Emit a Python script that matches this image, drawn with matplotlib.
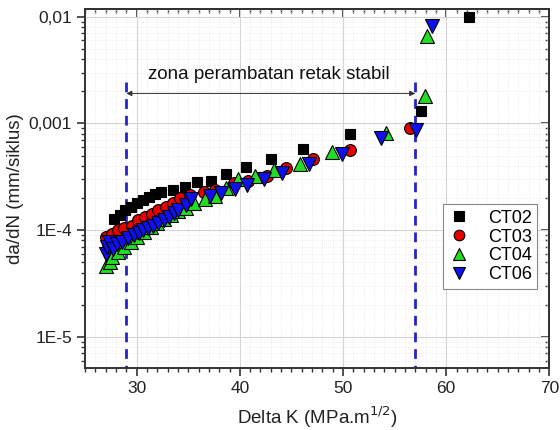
import matplotlib
matplotlib.use("Agg")
import matplotlib.pyplot as plt
from matplotlib.ticker import FixedLocator, FixedFormatter, MultipleLocator, LogLocator, NullFormatter

plt.rcParams['font.family'] = ['Liberation Sans', 'DejaVu Sans']

# data
ct02_dk = [27.8, 28.4, 28.9, 29.4, 30.0, 30.6, 31.2, 31.8, 32.4, 33.5, 34.7, 35.8, 37.2, 38.7,
           40.6, 43.0, 46.1, 50.7, 57.6, 62.2]
ct02_da = [1.26e-4, 1.39e-4, 1.54e-4, 1.66e-4, 1.78e-4, 1.91e-4, 2.03e-4, 2.18e-4, 2.29e-4, 2.38e-4,
           2.52e-4, 2.82e-4, 2.87e-4, 3.36e-4, 3.93e-4, 4.64e-4, 5.71e-4, 7.91e-4, 1.31e-3, 1.0e-2]

ct03_dk = [27.0, 27.2, 27.6, 28.2, 28.8, 29.5, 30.1, 30.8, 31.5, 32.1, 32.8, 33.5, 34.2, 35.2,
           36.5, 37.6, 39.4, 40.8, 42.6, 44.5, 47.1, 50.7, 56.5]
ct03_da = [8.6e-5, 7.4e-5, 9.2e-5, 1.0e-4, 1.05e-4, 1.10e-4, 1.24e-4, 1.33e-4, 1.42e-4, 1.54e-4,
           1.65e-4, 1.80e-4, 2.0e-4, 2.12e-4, 2.29e-4, 2.38e-4, 2.78e-4, 2.9e-4, 3.2e-4, 3.8e-4,
           4.6e-4, 5.6e-4, 9.0e-4]

ct04_dk = [27.0, 27.4, 27.6, 28.2, 28.8, 29.4, 30.0, 30.7, 31.4, 32.0, 32.6, 33.3, 34.0, 34.8,
           35.6, 36.6, 37.6, 38.7, 39.8, 41.5, 43.3, 45.8, 48.9, 54.2, 57.9, 58.1]
ct04_da = [4.6e-5, 5.0e-5, 5.6e-5, 6.2e-5, 7.0e-5, 7.8e-5, 8.6e-5, 9.6e-5, 1.06e-4, 1.16e-4,
           1.27e-4, 1.38e-4, 1.50e-4, 1.62e-4, 1.80e-4, 1.95e-4, 2.1e-4, 2.5e-4, 3.0e-4, 3.2e-4,
           3.7e-4, 4.2e-4, 5.4e-4, 8.2e-4, 1.8e-3, 6.6e-3]

ct06_dk = [27.0, 27.1, 27.3, 27.7, 28.1, 28.6, 29.2, 29.7, 30.2, 30.6, 31.1, 31.6, 32.1, 32.6,
           33.1, 33.6, 34.0, 34.8, 35.3, 37.1, 38.2, 39.5, 40.7, 42.3, 44.1, 46.7, 49.9, 53.7,
           57.1, 58.6]
ct06_da = [6.0e-5, 7.0e-5, 7.8e-5, 6.7e-5, 7.4e-5, 7.8e-5, 8.4e-5, 9.0e-5, 9.4e-5, 1.0e-4,
           1.04e-4, 1.1e-4, 1.16e-4, 1.25e-4, 1.34e-4, 1.44e-4, 1.54e-4, 1.72e-4, 1.94e-4, 2.1e-4,
           2.25e-4, 2.45e-4, 2.63e-4, 3.0e-4, 3.4e-4, 4.2e-4, 5.2e-4, 7.3e-4, 8.6e-4, 8.2e-3]

zone_lo, zone_hi = 29.0, 57.0
zone_label = "zona perambatan retak stabil"

fig = plt.figure(figsize=(5.6, 4.3), dpi=100)
ax = fig.add_axes([0.152, 0.144, 0.829, 0.835])

ax.set_yscale("log")
ax.set_xlim(25, 70)
ax.set_ylim(5.1e-6, 0.0118)

# grid
ax.grid(True, which="major", color="#d4d4d4", lw=0.8, ls="-", zorder=0)
ax.grid(True, which="minor", color="#e6e6e6", lw=0.6, ls=":", zorder=0)
ax.set_axisbelow(True)

# dashed zone boundaries and arrow
for xv in (zone_lo, zone_hi):
    ax.plot([xv, xv], [2.45e-3, 5.1e-6], color="#2424c8", lw=2.0, ls=(0, (3.5, 2.5)), zorder=2)
ax.annotate("", xy=(zone_hi, 1.91e-3), xytext=(zone_lo, 1.91e-3),
            arrowprops=dict(arrowstyle="<|-|>", color="#303030", lw=0.7,
                            mutation_scale=8, shrinkA=0, shrinkB=0), zorder=3)
ax.text((zone_lo + zone_hi) / 2 - 0.2, 2.4e-3, zone_label, ha="center", va="bottom",
        fontsize=13.5, color="#111111")

kw = dict(ls="none", mec="black", mew=0.8, zorder=4)
ax.plot(ct02_dk, ct02_da, marker="s", ms=7.5, mfc="black", label="CT02", **kw)
ax.plot(ct03_dk, ct03_da, marker="o", ms=8.5, mfc="#e80000", label="CT03", **kw)
ax.plot(ct04_dk, ct04_da, marker="^", ms=9.5, mfc="#22dd22", label="CT04", **kw)
ax.plot(ct06_dk, ct06_da, marker="v", ms=9.5, mfc="#1010ee", label="CT06", **kw)

# ticks
ax.xaxis.set_major_locator(MultipleLocator(10))
ax.xaxis.set_minor_locator(MultipleLocator(1))
yt = [1e-5, 1e-4, 1e-3, 1e-2]
ax.yaxis.set_major_locator(FixedLocator(yt))
ax.yaxis.set_major_formatter(FixedFormatter(["1E-5", "1E-4", "0,001", "0,01"]))
ax.yaxis.set_minor_locator(LogLocator(base=10, subs=range(2, 10)))
ax.yaxis.set_minor_formatter(NullFormatter())

ax.tick_params(which="both", direction="out", top=False, right=False, labelsize=12.5,
               color="#333333", labelcolor="#222222")
ax.tick_params(which="major", length=6, width=1.2)
ax.tick_params(which="minor", length=3, width=1.0)
sec_x = ax.secondary_xaxis("top")
sec_x.xaxis.set_major_locator(MultipleLocator(10))
sec_x.xaxis.set_minor_locator(MultipleLocator(1))
sec_x.tick_params(which="both", direction="in", labeltop=False, color="#333333")
sec_x.tick_params(which="major", length=6, width=1.2)
sec_x.tick_params(which="minor", length=3, width=1.0)
sec_y = ax.secondary_yaxis("right")
sec_y.yaxis.set_major_locator(FixedLocator(yt))
sec_y.yaxis.set_minor_locator(LogLocator(base=10, subs=range(2, 10)))
sec_y.yaxis.set_minor_formatter(NullFormatter())
sec_y.tick_params(which="both", direction="in", labelright=False, color="#333333")
sec_y.tick_params(which="major", length=6, width=1.2)
sec_y.tick_params(which="minor", length=3, width=1.0)
for sp in list(ax.spines.values()) + [sec_x.spines["top"], sec_y.spines["right"]]:
    sp.set_color("#333333")
    sp.set_linewidth(1.4)

ax.set_xlabel("Delta K (MPa.m$^{1/2}$)", fontsize=13.5, color="#222222", labelpad=6)
ax.set_ylabel("da/dN (mm/siklus)", fontsize=13.5, color="#222222", labelpad=3)

leg = ax.legend(loc="upper right", bbox_to_anchor=(0.974, 0.456), borderaxespad=0,
                fontsize=13, fancybox=False, framealpha=1, edgecolor="#888888",
                handletextpad=1.0, borderpad=0.3, labelspacing=0.1, handlelength=1.2,
                markerscale=0.9)
leg.get_frame().set_linewidth(0.8)

fig.savefig("out.png", dpi=100)
